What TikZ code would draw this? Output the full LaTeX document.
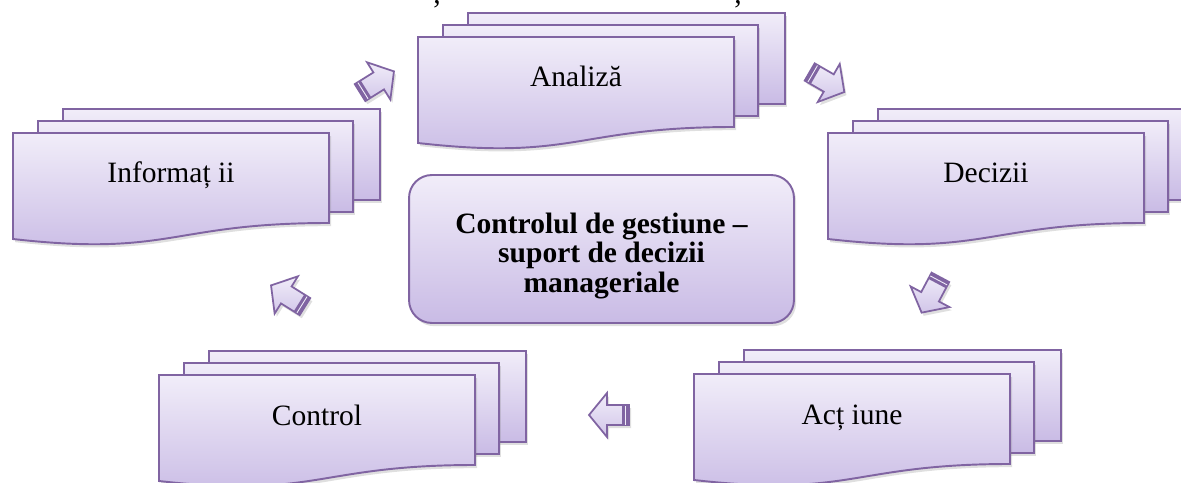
\documentclass[tikz,border=0pt]{standalone}
\usepackage{fontspec}
\setmainfont{Liberation Serif}
\usepackage{xcolor}
\usepackage{tikz}
\usetikzlibrary{shadows}

\definecolor{lavline}{RGB}{128,100,162}
\definecolor{lavtop}{RGB}{241,237,249}
\definecolor{lavbot}{RGB}{201,187,229}

\tikzset{
  softshadow/.style={drop shadow={opacity=0.25, shadow xshift=1.2pt, shadow yshift=-1.8pt}},
  sheet/.style={draw=lavline, line width=1.1pt, top color=lavtop, bottom color=lavbot, softshadow},
  sheetlabel/.style={font=\fontsize{16.8}{17}\selectfont, inner sep=0pt},
  corebox/.style={draw=lavline, line width=1.1pt, rounded corners=13pt, top color=lavtop, bottom color=lavbot,
    minimum width=7.7cm, minimum height=2.96cm, softshadow},
  coretext/.style={align=center, inner sep=0pt, font=\bfseries\fontsize{16.8}{16.8}\selectfont},
  arrowbody/.style={draw=lavline, line width=1pt, top color=lavtop, bottom color=lavbot!85, softshadow},
  cyclearrow/.pic={
    \draw[arrowbody] (-20,-10) -- (2,-10) -- (2,-22) -- (20,0) -- (2,22) -- (2,10) -- (-20,10) -- cycle;
    \fill[lavline] (-20,-10) rectangle (-13,10);
    \draw[lavtop, line width=0.5pt] (-16.5,-9.5) -- (-16.5,9.5);
  }
}

\begin{document}
\begin{tikzpicture}[x=0.02cm, y=-0.02cm]
    \useasboundingbox (0,0) rectangle (1181,483);
    \clip (0,0) rectangle (1181,483);
    % cut-off marks at the top edge
    \node[sheetlabel, anchor=north] (markA) at (437,0) {,};
    \node[sheetlabel, anchor=north] (markB) at (738,0) {,};
    % stacks of sheets
    \foreach \L/\T/\nm/\txt in {418/37/ana/Analiză, 13/133/inf/Informaț ii, 828/133/dec/Decizii,
        159/375/ctl/Control, 694/374/act/Acț iune}{
        \draw[sheet] (\L+50,\T-24) rectangle (\L+367,\T+67);
        \draw[sheet] (\L+25,\T-12) rectangle (\L+340,\T+79);
        \draw[sheet] (\L,\T) -- (\L+316,\T) -- (\L+316,\T+90)
            .. controls (\L+158,\T+90) and (\L+158,\T+124) .. (\L,\T+106) -- cycle;
        \node[sheetlabel, anchor=base] (\nm) at (\L+158,\T+50) {\txt};
    }
    % centre
    \node[corebox] (core) at (601.5,249) {};
    \node[coretext] (corelabel) at (601.5,256) {Controlul de gestiune –\\suport de decizii\\manageriale};
    % arrows of the cycle
    \foreach \x/\y/\a in {377/82/32, 827/82/-30, 931/295/-118, 609/415/180, 288/296/148}
        \pic[rotate=\a] at (\x,\y) {cyclearrow};
\end{tikzpicture}
\end{document}
